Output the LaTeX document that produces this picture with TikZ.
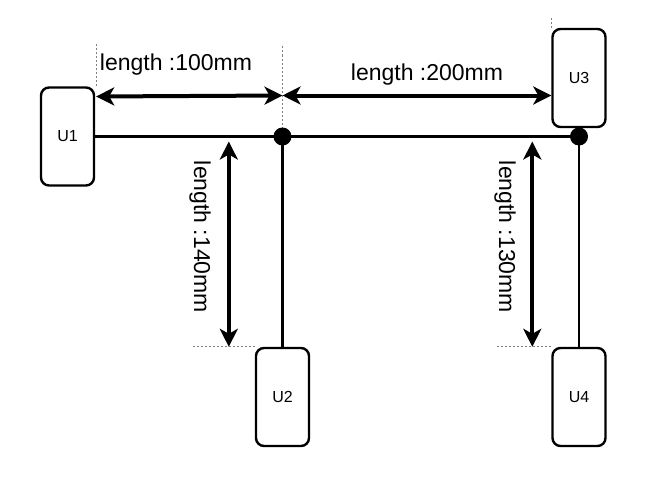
\documentclass[tikz,border=0pt]{standalone}
\usepackage{fontspec}
\setmainfont{Liberation Sans}
\usetikzlibrary{calc}
\usetikzlibrary{arrows.meta}
\tikzset{
 unit/.style={draw, line width=2.4pt, rounded corners=8pt, minimum width=53pt, minimum height=98pt, inner sep=0pt, font=\fontsize{16}{19}\selectfont},
 dimline/.style={line width=4pt, <->, >={Stealth[length=18pt,width=18pt,inset=5pt]}},
 guide/.style={gray, line width=0.8pt, dash pattern=on 2pt off 2pt},
 dimlabel/.style={font=\fontsize{23}{27}\selectfont, inner sep=0pt}
}
\begin{document}
\begin{tikzpicture} [x=1pt, y=-1pt]
\useasboundingbox (0,0) rectangle (650,487);
\node[unit] (u1) at (67.5,136.5) {U1};
\node[unit] (u2) at (282.5,397) {U2};
\node[unit] (u3) at (579,78) {U3};
\node[unit] (u4) at (579,397) {U4};
\coordinate (j1) at (u2.north |- u1.east);
\coordinate (j2) at (u4.north |- u1.east);
\path (u1.east) ++(1,-40) coordinate (d1);
\path (j1) ++(0,-41) coordinate (d2);
\path (u3.west |- d2) coordinate (d3);
\path (u2.north west) ++(-26,0) coordinate (v1b);
\path (v1b |- j1) ++(0,5) coordinate (v1a);
\path (u4.north west) ++(-19,0) coordinate (v2b);
\path (v2b |- j2) ++(0,5) coordinate (v2a);
% guides
\draw[guide] (u1.north east) ++(1,0) --++(0,-42);
\draw[guide] (j1) --++(0,-92);
\draw[guide] (u3.north west) --++(0,-11);
\draw[guide] (u2.north west) --++(-62,0);
\draw[guide] (u4.north west) --++(-55,0);
% bus and drops
\draw[line width=3pt] (u1.east) -- (j2);
\foreach \j/\u in {j1/u2, j2/u4} {
 \draw[line width=2.4pt] (\j) -- (\u.north);
 \fill (\j) circle (9pt);
}
% dimensions
\draw[dimline] (d1) -- (d2);
\draw[dimline] (d2) -- (d3);
\draw[dimline] (v1a) -- (v1b);
\draw[dimline] (v2a) -- (v2b);
\node[dimlabel] (l100) at (176,65) {length :100mm};
\node[dimlabel] (l200) at (427,75) {length :200mm};
\node[dimlabel, rotate=-90] (l140) at (200,237) {length :140mm};
\node[dimlabel, rotate=-90] (l130) at (505,237) {length :130mm};
\end{tikzpicture}
\end{document}
